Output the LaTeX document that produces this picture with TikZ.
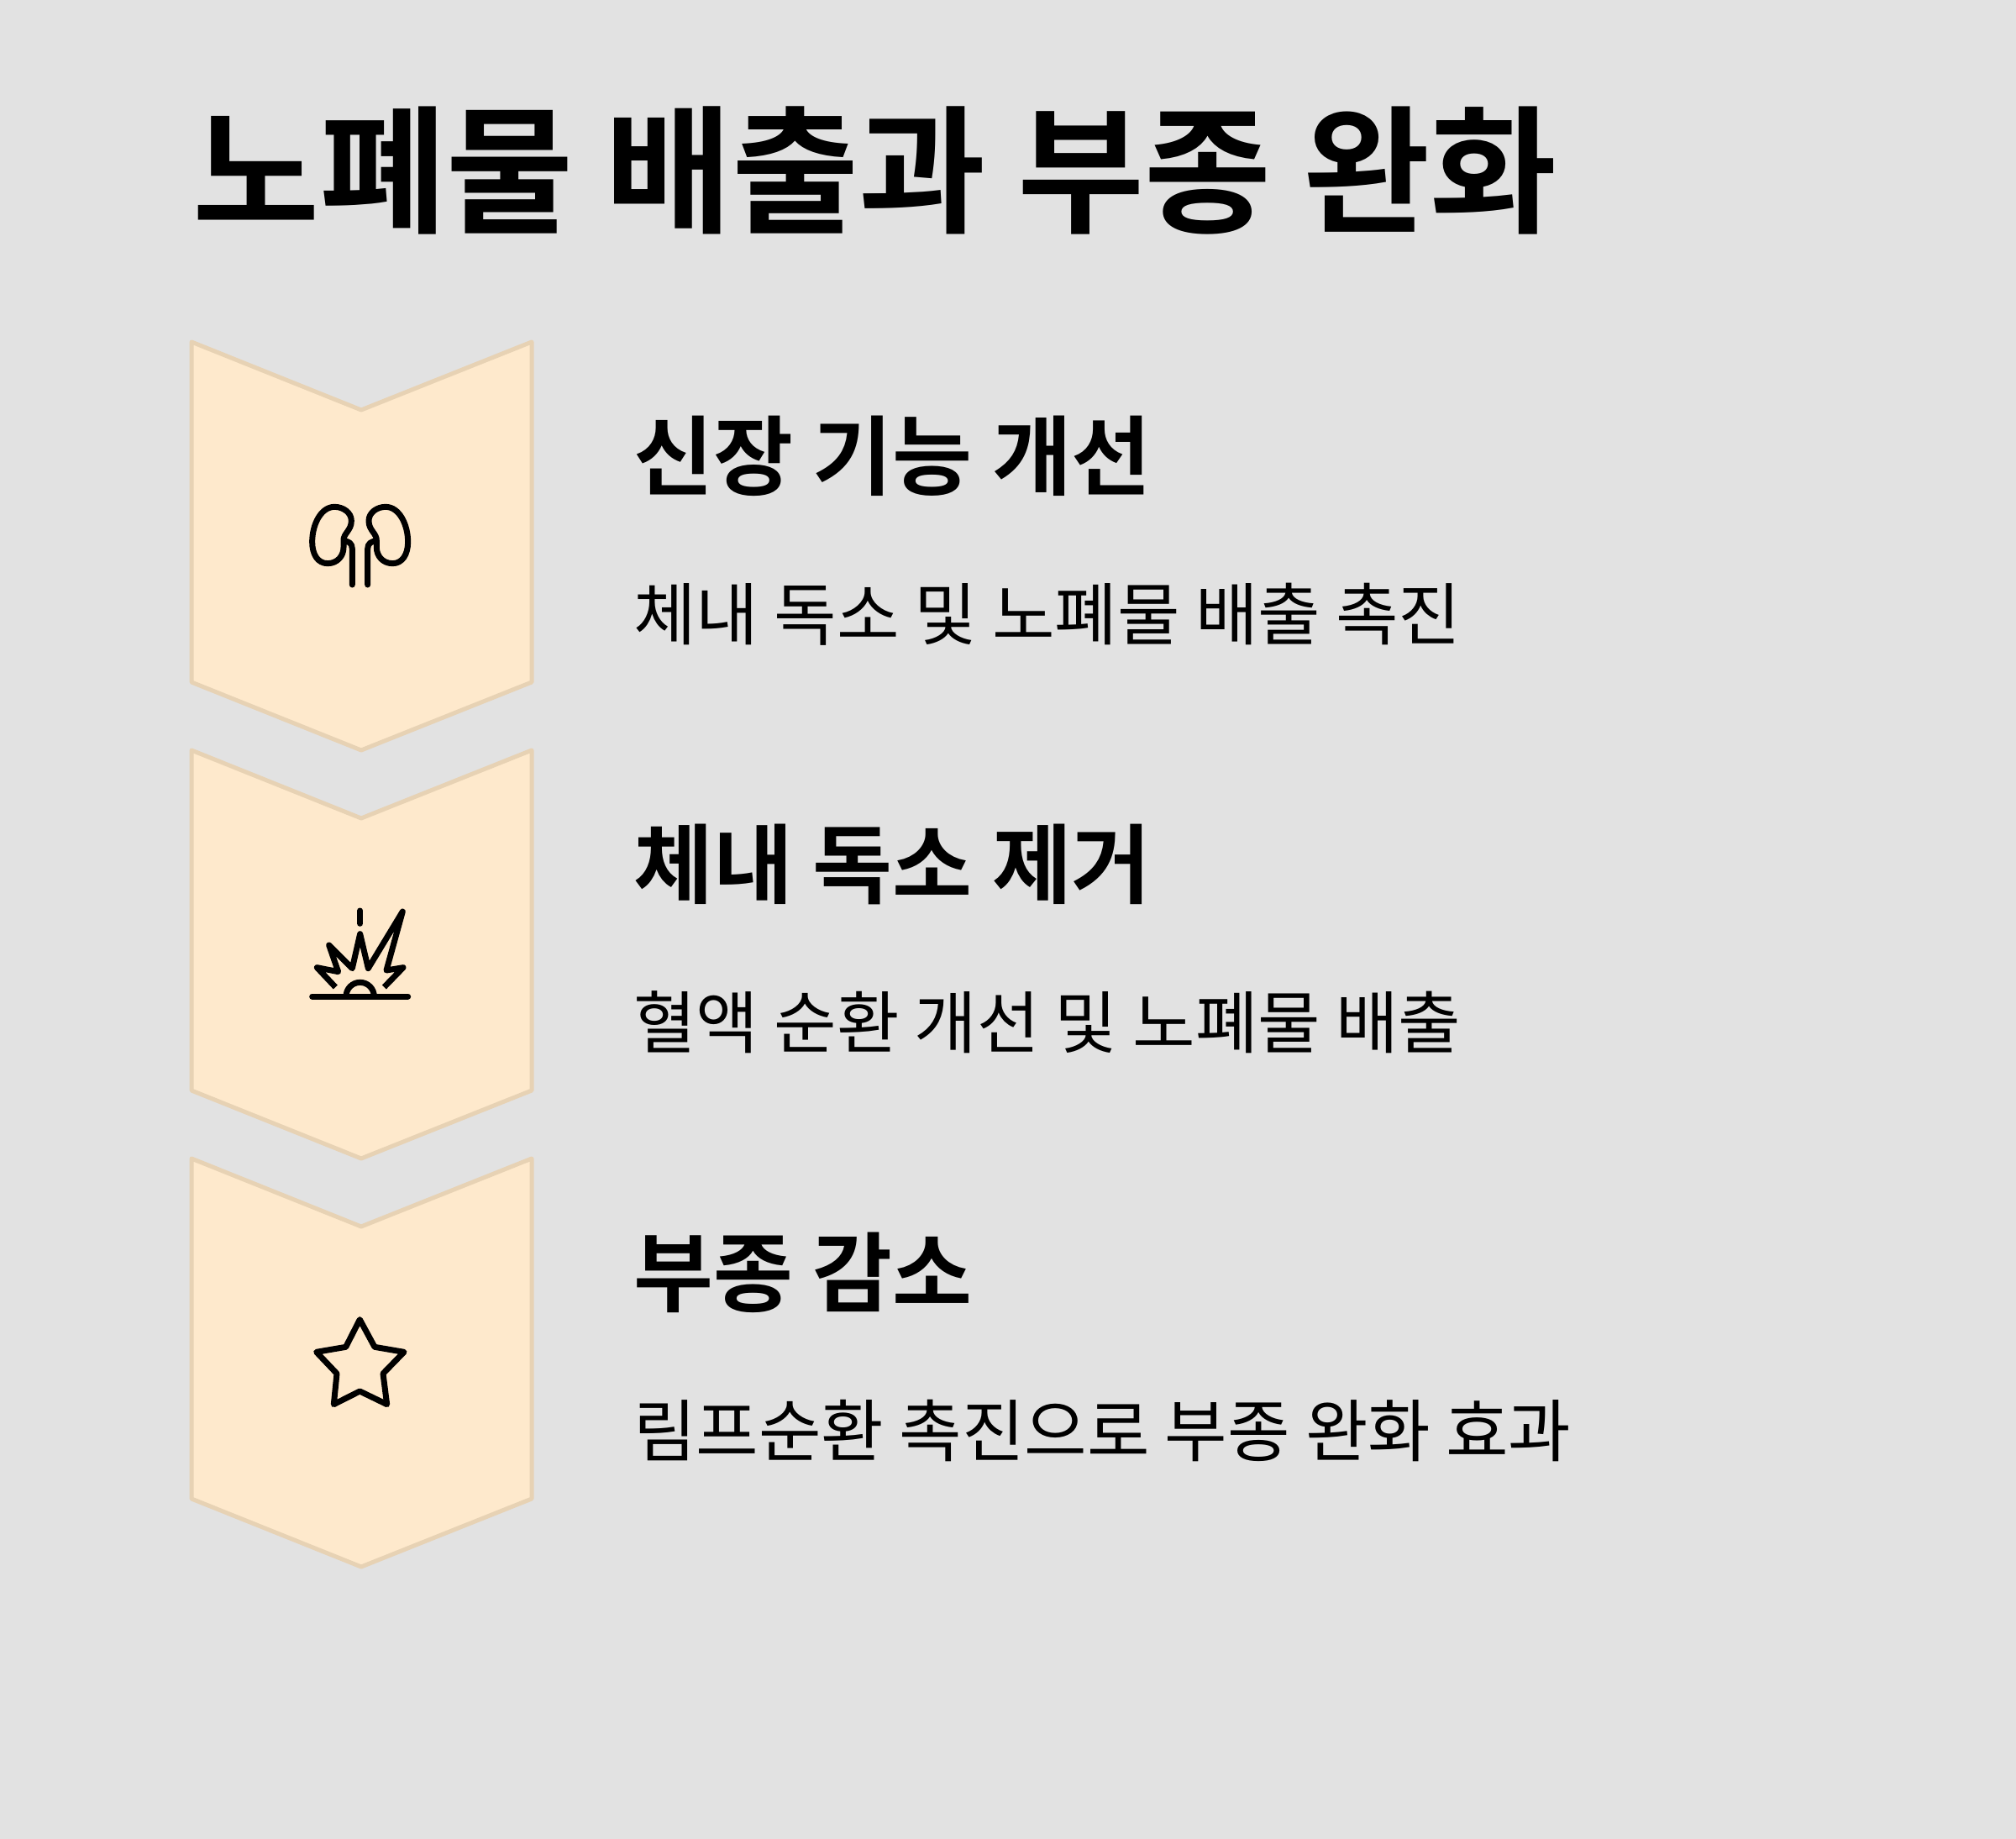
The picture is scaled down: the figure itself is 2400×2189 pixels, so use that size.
\documentclass[tikz,border=0pt]{standalone}
\usepackage{fontspec}
\setmainfont{Noto Sans CJK KR}
\newfontfamily\boldkr[BoldFont={Noto Sans CJK KR Bold}]{Noto Sans CJK KR Bold}
\definecolor{fundo}{HTML}{E2E2E2}
\definecolor{creme}{HTML}{FEE9CC}
\definecolor{borda}{HTML}{E7D2B4}
\begin{document}
\begin{tikzpicture}[x=0.5pt,y=-0.5pt]

	\tikzset{
	    chevron/.style={draw=borda, fill=creme, line width=2.5pt, line join=round},
	    icon/.style={draw=black, line width=3.5pt, line cap=round, line join=round},
	    title/.style={anchor=base west, inner sep=0pt, font=\boldkr\fontsize{82.2pt}{90pt}\selectfont},
	    head/.style={anchor=base west, inner sep=0pt, font=\boldkr\fontsize{51.6pt}{58pt}\selectfont},
	    desc/.style={anchor=base west, inner sep=0pt, font=\fontsize{40.5pt}{46pt}\selectfont}
	}

	\fill[fundo] (0,0) rectangle (2400,2189);
	\useasboundingbox (0,0) rectangle (2400,2189);

	% Title
	\node[title] (T) at (229,264) {노폐물 배출과 부종 완화};

	% Chevrons
	\draw[chevron] (228,407) -- (430,488) -- (633,407) -- (633,812) -- (430,893) -- (228,812) -- cycle;
	\draw[chevron] (228,893) -- (430,974) -- (633,893) -- (633,1298) -- (430,1379) -- (228,1298) -- cycle;
	\draw[chevron] (228,1379) -- (430,1460) -- (633,1379) -- (633,1784) -- (430,1865) -- (228,1784) -- cycle;

	% Kidneys
	\begin{scope}[shift={(340,570)}, scale=1/3]
	  \draw[icon] (207,222) .. controls (205,195) and (235,185) .. (235,150)
	    .. controls (235,120) and (205,100) .. (175,100)
	    .. controls (125,100) and (95,165) .. (95,225)
	    .. controls (95,270) and (115,302) .. (150,302)
	    .. controls (185,302) and (207,275) .. (207,245) -- (207,222)
	    .. controls (225,222) and (238,230) .. (238,250) -- (238,378);
	  \draw[icon] (325,222) .. controls (327,195) and (297,185) .. (297,150)
	    .. controls (297,120) and (327,100) .. (357,100)
	    .. controls (407,100) and (437,165) .. (437,225)
	    .. controls (437,270) and (417,302) .. (382,302)
	    .. controls (347,302) and (325,275) .. (325,245) -- (325,222)
	    .. controls (307,222) and (293,230) .. (293,250) -- (293,378);
	\end{scope}

	% Explosion
	\begin{scope}[shift={(340,1060)}, scale=1/3]
	  \draw[icon, line cap=butt] (178,345) -- (112,275) -- (188,290) -- (155,195) -- (238,278) -- (266,155)
	    -- (295,278) -- (418,75) -- (360,285) -- (420,275) -- (352,345);
	  \draw[icon] (266,72) -- (266,118);
	  \draw[icon] (95,378) -- (437,378);
	  \draw[icon, line cap=butt] (216,378) arc[start angle=180, end angle=360, radius=50];
	\end{scope}

	% Star
	\begin{scope}[shift={(340,1550)}, scale=1/3]
	  \draw[icon] (265,62) -- (318,160) -- (423,178) -- (348,255) -- (362,365) -- (265,318)
	    -- (172,365) -- (183,255) -- (110,178) -- (215,160) -- cycle;
	\end{scope}

	% Texts
	\node[head] (H1) at (754,581) {신장 기능 개선};
	\node[desc] (D1) at (754,761) {체내 독소 및 노폐물 배출 촉진};
	\node[head] (H2) at (754,1067) {체내 독소 제거};
	\node[desc] (D2) at (754,1247) {혈액 순환 개선 및 노폐물 배출};
	\node[head] (H3) at (754,1553) {부종 감소};
	\node[desc] (D3) at (754,1733) {림프순환 촉진으로 부종 완화 효과};

\end{tikzpicture}
\end{document}
